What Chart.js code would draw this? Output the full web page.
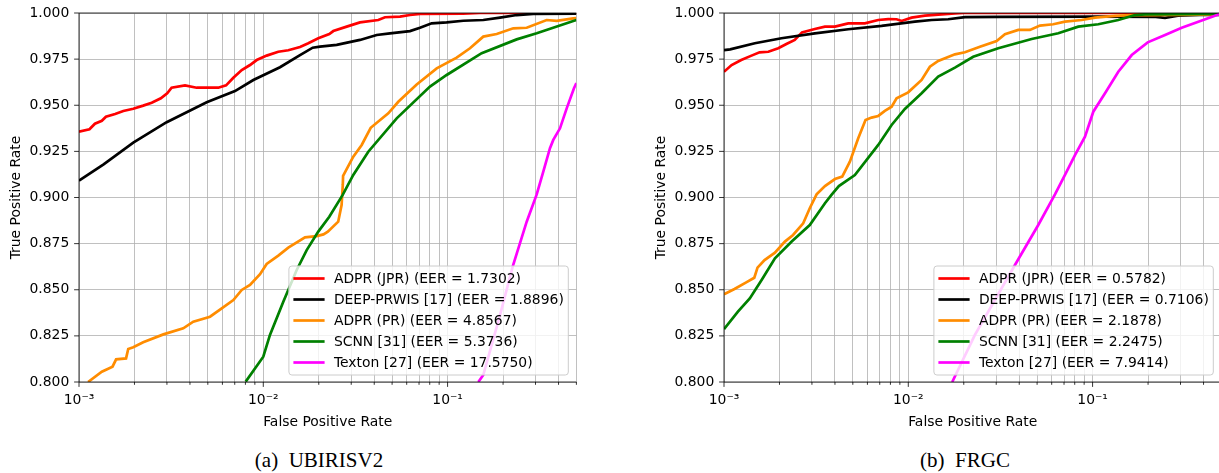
<!DOCTYPE html>
<html><head><meta charset="utf-8">
<script src="https://cdn.jsdelivr.net/npm/chart.js@4.4.0/dist/chart.umd.min.js"></script>
<style>
html,body{margin:0;padding:0;background:#fff;overflow:hidden;width:1219px;height:473px;position:relative}
canvas{position:absolute;top:0}
.cap{position:absolute;top:447px;width:300px;text-align:center;font-family:'Liberation Serif','Times New Roman',serif;font-size:21px;line-height:26px;color:#000;white-space:nowrap}
</style></head><body>
<canvas id="c1" width="610" height="440" style="left:0px"></canvas>
<canvas id="c2" width="610" height="440" style="left:645px"></canvas>
<div class="cap" style="left:169px">(a)&nbsp; UBIRISV2</div>
<div class="cap" style="left:815px">(b)&nbsp; FRGC</div>
<script>
// ---------- axis ticks ----------
const X_MIN = 0.001, X_MAX = 0.5;
const X_MAJOR = [0.001, 0.01, 0.1];
const X_MAJOR_LABELS = ['10\u207B\u00B3', '10\u207B\u00B2', '10\u207B\u00B9'];
const X_MANTISSA = [1, 2, 3, 4, 5, 6, 7, 8, 9];
const Y_TICKS = [0.800, 0.825, 0.850, 0.875, 0.900, 0.925, 0.950, 0.975, 1.000];

const COLORS = ['#ff0000', '#000000', '#ff8c00', '#008000', '#ff00ff'];

// ---------- (a) UBIRISV2 : [FPR, TPR] ----------
const UB_LABELS = ['ADPR (JPR) (EER = 1.7302)', 'DEEP-PRWIS [17] (EER = 1.8896)', 'ADPR (PR) (EER = 4.8567)', 'SCNN [31] (EER = 5.3736)', 'Texton [27] (EER = 17.5750)'];
const UB_JPR = [[0.001,0.9357],[0.00114,0.937],[0.00122,0.940],[0.00133,0.9416],[0.00140,0.9438],[0.00157,0.9453],[0.00174,0.9469],[0.00197,0.9481],[0.00223,0.9498],[0.00248,0.9514],[0.00278,0.9538],[0.00301,0.9565],[0.00318,0.9595],[0.00376,0.9608],[0.00435,0.9595],[0.00570,0.9595],[0.00628,0.9608],[0.00688,0.9649],[0.00764,0.9691],[0.00847,0.9718],[0.00921,0.9745],[0.01043,0.9769],[0.01206,0.9790],[0.01367,0.9798],[0.01582,0.9816],[0.01755,0.9836],[0.01988,0.9863],[0.02281,0.9886],[0.02398,0.9902],[0.02835,0.9926],[0.03347,0.9949],[0.04207,0.9962],[0.04574,0.9977],[0.05517,0.9980],[0.06252,0.9989],[0.07085,0.9995],[0.1212,0.9996],[0.15,1.0],[0.5,1.0]];
const UB_DEEP = [[0.001,0.9091],[0.00136,0.9180],[0.00197,0.9297],[0.00299,0.9408],[0.00493,0.9516],[0.00702,0.9577],[0.00883,0.9637],[0.01232,0.9706],[0.01582,0.9772],[0.01854,0.9812],[0.02031,0.9818],[0.02502,0.9827],[0.03347,0.9854],[0.04124,0.9881],[0.04870,0.9890],[0.06252,0.9902],[0.07085,0.9920],[0.08199,0.9944],[0.09888,0.9949],[0.1217,0.9958],[0.1562,0.9962],[0.1925,0.9975],[0.2371,0.9989],[0.2917,0.9995],[0.5,0.9997]];
const UB_PR = [[0.00112,0.800],[0.00133,0.8056],[0.00152,0.8083],[0.00159,0.8123],[0.00180,0.8128],[0.00185,0.8179],[0.00197,0.8188],[0.00223,0.8215],[0.00287,0.8258],[0.00368,0.8291],[0.00417,0.8327],[0.00514,0.8354],[0.00595,0.8399],[0.00688,0.8444],[0.00764,0.8499],[0.00847,0.8526],[0.00960,0.8584],[0.01043,0.8640],[0.01206,0.8685],[0.01367,0.8728],[0.01684,0.8784],[0.0195,0.8791],[0.0212,0.8800],[0.0224,0.8815],[0.0255,0.8869],[0.0266,0.8959],[0.0270,0.9068],[0.0271,0.9117],[0.03078,0.9221],[0.03420,0.9285],[0.03826,0.9378],[0.04767,0.9456],[0.05402,0.9519],[0.06798,0.9613],[0.08728,0.9700],[0.1120,0.9758],[0.1323,0.9809],[0.1562,0.9872],[0.1847,0.9886],[0.2272,0.9917],[0.2687,0.9920],[0.3449,0.9962],[0.3908,0.9957],[0.4810,0.9971],[0.5,0.9972]];
const UB_SCNN = [[0.00803,0.8002],[0.0100,0.8137],[0.01087,0.8255],[0.01284,0.8435],[0.01518,0.8607],[0.01720,0.8715],[0.01988,0.8815],[0.02281,0.8896],[0.02697,0.9014],[0.03078,0.9122],[0.03713,0.9248],[0.05294,0.9429],[0.08026,0.9601],[0.09888,0.9664],[0.1531,0.9782],[0.2371,0.9857],[0.3045,0.9890],[0.4810,0.9957],[0.5,0.9962]];
const UB_TEXTON = [[0.1468,0.800],[0.1562,0.8038],[0.1925,0.8363],[0.2255,0.8625],[0.2687,0.8869],[0.3045,0.9017],[0.3306,0.9140],[0.3594,0.9267],[0.3746,0.9312],[0.4073,0.9375],[0.4429,0.9483],[0.4851,0.9592],[0.5,0.962]];

// ---------- (b) FRGC : [FPR, TPR] ----------
const FR_LABELS = ['ADPR (JPR) (EER = 0.5782)', 'DEEP-PRWIS [17] (EER = 0.7106)', 'ADPR (PR) (EER = 2.1878)', 'SCNN [31] (EER = 2.2475)', 'Texton [27] (EER = 7.9414)'];
const FR_JPR = [[0.001,0.9682],[0.00110,0.9718],[0.00124,0.9745],[0.00141,0.9769],[0.00156,0.9787],[0.00174,0.9790],[0.00197,0.9809],[0.00218,0.9832],[0.00242,0.9854],[0.00265,0.9895],[0.00311,0.9913],[0.00353,0.9926],[0.00400,0.9926],[0.00472,0.9944],[0.00581,0.9944],[0.00687,0.9962],[0.00778,0.9967],[0.00864,0.9966],[0.00920,0.9957],[0.01042,0.9975],[0.01231,0.9986],[0.01516,0.9993],[0.01791,0.9998],[0.02,1.0],[0.5,1.0]];
const FR_DEEP = [[0.001,0.9799],[0.00108,0.9803],[0.00147,0.9836],[0.00205,0.9863],[0.00311,0.9890],[0.00472,0.9912],[0.00716,0.9930],[0.01086,0.9953],[0.01338,0.9962],[0.01646,0.9966],[0.0203,0.9978],[0.0314,0.9979],[0.1096,0.9980],[0.2200,0.9979],[0.2472,0.9974],[0.2907,0.9985],[0.3828,0.9990],[0.5,0.9990]];
const FR_PR = [[0.001,0.8475],[0.00114,0.8504],[0.00132,0.8540],[0.00146,0.8565],[0.00152,0.8620],[0.00166,0.8661],[0.00189,0.8701],[0.00214,0.8761],[0.00237,0.8797],[0.00269,0.8860],[0.00292,0.8942],[0.00318,0.9017],[0.00353,0.9062],[0.00400,0.9100],[0.00438,0.9113],[0.00482,0.9194],[0.00535,0.9321],[0.00586,0.9420],[0.00632,0.9433],[0.00687,0.9442],[0.00746,0.9469],[0.00812,0.9492],[0.00864,0.9538],[0.00999,0.9570],[0.01181,0.9637],[0.01310,0.9709],[0.01453,0.9740],[0.01791,0.9776],[0.02029,0.9787],[0.02447,0.9817],[0.03015,0.9848],[0.03345,0.9885],[0.03951,0.9908],[0.04572,0.9908],[0.05181,0.9932],[0.06117,0.9939],[0.07083,0.9953],[0.08727,0.9962],[0.1030,0.9975],[0.1323,0.9984],[0.1631,0.9989],[0.2093,0.9989],[0.2907,0.9990],[0.5,0.9993]];
const FR_SCNN = [[0.001,0.8287],[0.00119,0.8381],[0.00138,0.8453],[0.00160,0.8553],[0.00189,0.8670],[0.00233,0.8761],[0.00292,0.8851],[0.00353,0.8969],[0.00383,0.9014],[0.00420,0.9062],[0.00513,0.9122],[0.00687,0.9285],[0.00812,0.9393],[0.00958,0.9480],[0.01181,0.9565],[0.01453,0.9655],[0.01791,0.9704],[0.02250,0.9763],[0.03077,0.9809],[0.04670,0.9859],[0.06513,0.9890],[0.08362,0.9926],[0.1074,0.9939],[0.1379,0.9962],[0.1699,0.9989],[0.1925,0.9993],[0.5,0.9995]];
const FR_TEXTON = [[0.01731,0.800],[0.02299,0.8255],[0.03791,0.8634],[0.05073,0.8851],[0.06251,0.9017],[0.07083,0.9122],[0.08025,0.9230],[0.09094,0.9330],[0.1009,0.9465],[0.1168,0.9565],[0.1379,0.9682],[0.1631,0.9772],[0.1991,0.9841],[0.2473,0.9881],[0.3045,0.9920],[0.3748,0.9953],[0.4856,0.9993],[0.5,0.9996]];

// ---------- helpers ----------
const FONT = 'DejaVu Sans';
const FS = 13.9;
Chart.defaults.font.family = FONT;
Chart.defaults.font.size = FS;
Chart.defaults.color = '#000';

function xTickList() {
  const t = [];
  for (const m of X_MAJOR) for (const k of X_MANTISSA) {
    const v = +(m * k).toPrecision(3);
    if (v <= X_MAX + 1e-12) t.push({ value: v, major: k === 1 });
  }
  return t;
}

const decor = {
  id: 'decor',
  afterDatasetsDraw(chart) {
    const { ctx, chartArea: a, scales: { x, y } } = chart;
    ctx.save();
    ctx.strokeStyle = '#000';
    ctx.lineWidth = 0.8;
    ctx.beginPath();
    ctx.moveTo(a.right, a.top); ctx.lineTo(a.left, a.top); ctx.lineTo(a.left, a.bottom); ctx.lineTo(a.right, a.bottom);
    ctx.stroke();
    x.ticks.forEach(t => {
      const px = x.getPixelForValue(t.value);
      const L = t.major ? 4.9 : 2.8;
      ctx.beginPath(); ctx.moveTo(px, a.bottom); ctx.lineTo(px, a.bottom + L); ctx.stroke();
    });
    y.ticks.forEach(t => {
      const py = y.getPixelForValue(t.value);
      ctx.beginPath(); ctx.moveTo(a.left, py); ctx.lineTo(a.left - 4.9, py); ctx.stroke();
    });
    // legend
    const ds = chart.data.datasets;
    ctx.font = FS + 'px "' + FONT + '"';
    const maxW = Math.max(...ds.map(d => ctx.measureText(d.label).width));
    const bw = 45 + maxW + 4.5, bh = 109;
    const bx = a.right - 8.1 - bw, by = a.bottom - 7 - bh;
    ctx.beginPath();
    ctx.roundRect(bx, by, bw, bh, 3);
    ctx.fillStyle = 'rgba(255,255,255,0.8)';
    ctx.fill();
    ctx.strokeStyle = '#cccccc';
    ctx.lineWidth = 1;
    ctx.stroke();
    ds.forEach((d, i) => {
      const ly = by + 12.5 + i * 21;
      ctx.strokeStyle = d.borderColor;
      ctx.lineWidth = 2.7;
      ctx.beginPath(); ctx.moveTo(bx + 4.5, ly); ctx.lineTo(bx + 35.7, ly); ctx.stroke();
      ctx.fillStyle = '#000';
      ctx.textBaseline = 'middle';
      ctx.textAlign = 'left';
      ctx.fillText(d.label, bx + 45, ly + 0.5);
    });
    ctx.restore();
  }
};

function makeChart(id, labels, series) {
  const datasets = series.map((s, i) => ({
    label: labels[i],
    data: s.map(([fx, ty]) => ({ x: fx, y: ty })),
    borderColor: COLORS[i],
    backgroundColor: COLORS[i],
    borderWidth: 2.7,
    pointRadius: 0,
    tension: 0,
    fill: false,
    clip: 0,
    order: series.length - i
  }));
  return new Chart(document.getElementById(id), {
    type: 'line',
    data: { datasets },
    options: {
      responsive: false,
      animation: false,
      events: [],
      layout: { padding: { left: 0, top: 13, right: 33.6, bottom: 0 } },
      plugins: { legend: { display: false }, tooltip: { enabled: false } },
      scales: {
        x: {
          type: 'logarithmic', min: X_MIN, max: X_MAX,
          afterBuildTicks: s => { s.ticks = xTickList(); },
          afterFit: s => { s.height = 58; s.paddingLeft = 0; s.paddingRight = 0; },
          grid: { color: '#b0b0b0', lineWidth: 0.8, drawTicks: false },
          border: { display: false },
          ticks: {
            autoSkip: false, maxRotation: 0, minRotation: 0, padding: 9.7, color: '#000',
            callback: v => {
              const k = X_MAJOR.findIndex(m => Math.abs(m - v) / m < 1e-6);
              return k >= 0 ? X_MAJOR_LABELS[k] : '';
            }
          },
          title: { display: true, text: 'False Positive Rate', color: '#000', padding: { top: 0, bottom: 9.7 } }
        },
        y: {
          type: 'linear', min: 0.8, max: 1.0,
          afterBuildTicks: s => { s.ticks = Y_TICKS.map(v => ({ value: v })); },
          afterFit: s => { s.width = 79; s.paddingTop = 0; s.paddingBottom = 0; },
          grid: { color: '#b0b0b0', lineWidth: 0.8, drawTicks: false },
          border: { display: false },
          ticks: { padding: 9.7, color: '#000', callback: v => v.toFixed(3) },
          title: { display: true, text: 'True Positive Rate', color: '#000', padding: { top: 7.7, bottom: 0 } }
        }
      }
    },
    plugins: [decor]
  });
}

makeChart('c1', UB_LABELS, [UB_JPR, UB_DEEP, UB_PR, UB_SCNN, UB_TEXTON]);
makeChart('c2', FR_LABELS, [FR_JPR, FR_DEEP, FR_PR, FR_SCNN, FR_TEXTON]);
</script>
</body></html>
